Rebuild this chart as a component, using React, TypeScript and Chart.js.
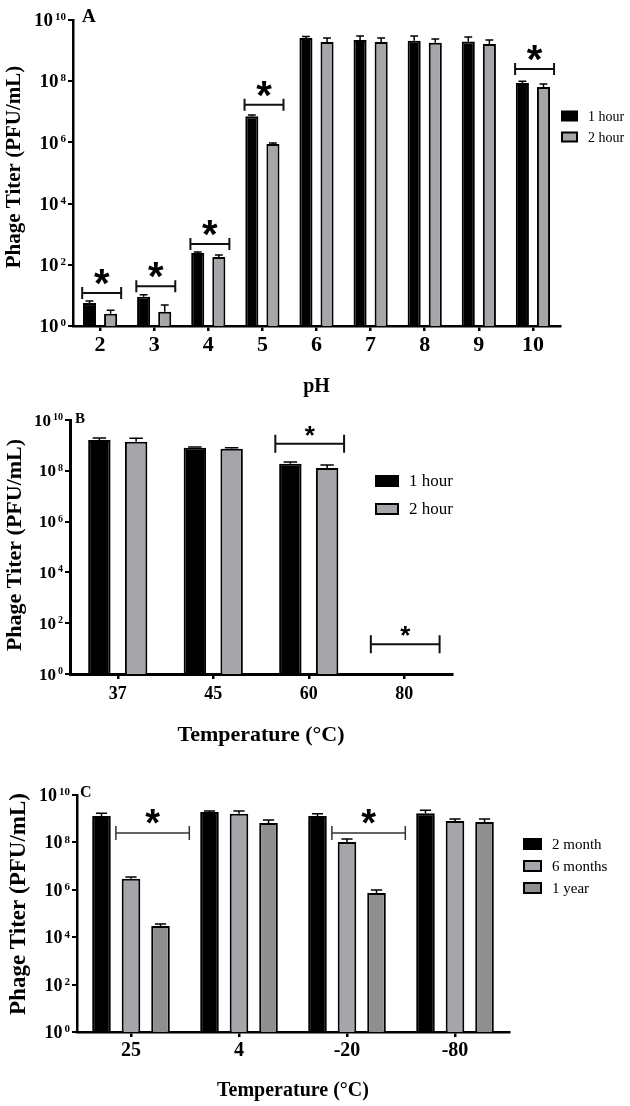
import React, { useEffect, useRef } from "react";
import { Chart, registerables } from "chart.js";

Chart.register(...registerables);

const SERIF = "'Liberation Serif', 'Times New Roman', serif";
const SANS = "'Liberation Sans', Arial, sans-serif";

// ---------- Panel A: pH stability ----------
const phLabels = ["2", "3", "4", "5", "6", "7", "8", "9", "10"];
const ph1Hour = [5.6, 9, 245, 7.2e6, 2.6e9, 2.2e9, 2.1e9, 2.0e9, 8.7e7];
const ph1HourErr = [6.6, 10.5, 263, 7.9e6, 2.9e9, 3.0e9, 3.0e9, 2.8e9, 1.0e8];
const ph2Hour = [2.5, 2.9, 180, 8.9e5, 1.9e9, 1.9e9, 1.8e9, 1.65e9, 6.5e7];
const ph2HourErr = [3.3, 4.9, 209, 9.5e5, 2.6e9, 2.6e9, 2.4e9, 2.2e9, 8.1e7];
const phSigCats = [0, 1, 2, 3, 8];
const phSigLevels = [12, 20, 480, 1.7e7, 2.5e8];

// ---------- Panel B: temperature stability ----------
const tempLabels = ["37", "45", "60", "80"];
const temp1Hour = [1.65e9, 8e8, 1.9e8, null];
const temp1HourErr = [1.96e9, 8.7e8, 2.2e8, null];
const temp2Hour = [1.4e9, 7.3e8, 1.3e8, null];
const temp2HourErr = [1.9e9, 8e8, 1.7e8, null];
const tempSigCats = [2, 3];
const tempSigLevels = [1.15e9, 15];

// ---------- Panel C: storage stability ----------
const storeLabels = ["25", "4", "-20", "-80"];
const store2Month = [1.3e9, 1.9e9, 1.3e9, 1.7e9];
const store2MonthErr = [1.7e9, 2.1e9, 1.6e9, 2.3e9];
const store6Months = [2.9e6, 1.6e9, 1.05e8, 8e8];
const store6MonthsErr = [3.5e6, 2.1e9, 1.4e8, 9.7e8];
const store1Year = [3e4, 6.6e8, 7.3e5, 7.3e8];
const store1YearErr = [3.6e4, 8.8e8, 9.8e5, 9.7e8];
const storeSigCats = [0, 2];
const storeSigLevels = [2.5e8, 2.5e8];

const yTickValues = [1, 1e2, 1e4, 1e6, 1e8, 1e10];
const yTickBase = "10";
const yTitleText = "Phage Titer (PFU/mL)";

type Series = { label: string; values: (number | null)[]; errors: (number | null)[]; color: string };

type Panel = {
  top: number;
  height: number;
  area: { left: number; top: number; right: number; bottom: number };
  labels: string[];
  series: Series[];
  sigCats: number[];
  sigLevels: number[];
  sigFrom: number;
  sigTo: number;
  sigCap: number;
  sigLw: number;
  sigColor: string;
  starSize: number;
  starDy: number;
  catPct: number;
  barPct: number;
  axisW: number;
  yTickFont: number;
  xTickFont: number;
  xTickPad: number;
  yTitleFont: number;
  yTitleX: number;
  yTitleY: number;
  xTitle: string;
  xTitleFont: number;
  xTitlePad: number;
  letter: string;
  letterX: number;
  letterY: number;
  letterFont: number;
  legX: number;
  legY: number;
  legDy: number;
  legW: number;
  legH: number;
  legFont: number;
  errLw: number;
};

const BLACK = "#000000";
const GREY = "#a6a6aa";
const DARKGREY = "#8f8f91";

const panels: Panel[] = [
  {
    top: 0,
    height: 405,
    area: { left: 73, top: 20, right: 560, bottom: 326 },
    labels: phLabels,
    series: [
      { label: "1 hour", values: ph1Hour, errors: ph1HourErr, color: BLACK },
      { label: "2 hour", values: ph2Hour, errors: ph2HourErr, color: GREY },
    ],
    sigCats: phSigCats,
    sigLevels: phSigLevels,
    sigFrom: -0.33,
    sigTo: 0.39,
    sigCap: 6,
    sigLw: 2,
    sigColor: "#111",
    starSize: 40,
    starDy: 18,
    catPct: 0.78,
    barPct: 0.62,
    axisW: 2.5,
    yTickFont: 19,
    xTickFont: 22,
    xTickPad: 1,
    yTitleFont: 21,
    yTitleX: 15,
    yTitleY: 167,
    xTitle: "pH",
    xTitleFont: 20,
    xTitlePad: 6,
    letter: "A",
    letterX: 82,
    letterY: 17,
    letterFont: 19,
    legX: 562,
    legY: 116,
    legDy: 21,
    legW: 15,
    legH: 9,
    legFont: 14,
    errLw: 1.5,
  },
  {
    top: 405,
    height: 355,
    area: { left: 70, top: 15, right: 452, bottom: 269 },
    labels: tempLabels,
    series: [
      { label: "1 hour", values: temp1Hour, errors: temp1HourErr, color: BLACK },
      { label: "2 hour", values: temp2Hour, errors: temp2HourErr, color: GREY },
    ],
    sigCats: tempSigCats,
    sigLevels: tempSigLevels,
    sigFrom: -0.35,
    sigTo: 0.37,
    sigCap: 9,
    sigLw: 2,
    sigColor: "#111",
    starSize: 26,
    starDy: 14,
    catPct: 0.77,
    barPct: 0.61,
    axisW: 3,
    yTickFont: 17,
    xTickFont: 18,
    xTickPad: 5,
    yTitleFont: 22,
    yTitleX: 15,
    yTitleY: 140,
    xTitle: "Temperature (°C)",
    xTitleFont: 22,
    xTitlePad: 11,
    letter: "B",
    letterX: 75,
    letterY: 14,
    letterFont: 15,
    legX: 376,
    legY: 76,
    legDy: 28,
    legW: 22,
    legH: 10,
    legFont: 17,
    errLw: 1.5,
  },
  {
    top: 780,
    height: 326,
    area: { left: 77, top: 15, right: 509, bottom: 252 },
    labels: storeLabels,
    series: [
      { label: "2 month", values: store2Month, errors: store2MonthErr, color: BLACK },
      { label: "6 months", values: store6Months, errors: store6MonthsErr, color: GREY },
      { label: "1 year", values: store1Year, errors: store1YearErr, color: DARKGREY },
    ],
    sigCats: storeSigCats,
    sigLevels: storeSigLevels,
    sigFrom: -0.14,
    sigTo: 0.54,
    sigCap: 7,
    sigLw: 1.5,
    sigColor: "#333",
    starSize: 38,
    starDy: 18,
    catPct: 0.82,
    barPct: 0.63,
    axisW: 2.5,
    yTickFont: 18,
    xTickFont: 20,
    xTickPad: 1.5,
    yTitleFont: 23,
    yTitleX: 19,
    yTitleY: 124,
    xTitle: "Temperature (°C)",
    xTitleFont: 20,
    xTitlePad: 3,
    letter: "C",
    letterX: 80,
    letterY: 13,
    letterFont: 16,
    legX: 524,
    legY: 64,
    legDy: 22,
    legW: 17,
    legH: 10,
    legFont: 15,
    errLw: 1.5,
  },
];

function makeExtras(p: Panel) {
  return {
    id: "extras",
    afterDatasetsDraw(chart: any) {
      const ctx = chart.ctx as CanvasRenderingContext2D;
      const ys = chart.scales.y;
      chart.data.datasets.forEach((_ds: any, di: number) => {
        const meta = chart.getDatasetMeta(di);
        const errs = p.series[di].errors;
        meta.data.forEach((bar: any, i: number) => {
          const e = errs[i];
          const v = p.series[di].values[i];
          if (e == null || v == null) return;
          const props = bar.getProps(["x", "y", "width"], true);
          const ey = ys.getPixelForValue(e);
          const hw = props.width * 0.3;
          ctx.save();
          ctx.strokeStyle = "#000";
          ctx.lineWidth = p.errLw;
          ctx.beginPath();
          ctx.moveTo(props.x, props.y);
          ctx.lineTo(props.x, ey);
          ctx.moveTo(props.x - hw, ey);
          ctx.lineTo(props.x + hw, ey);
          ctx.stroke();
          ctx.restore();
        });
      });
    },
    afterDraw(chart: any) {
      const ctx = chart.ctx as CanvasRenderingContext2D;
      const xs = chart.scales.x;
      const ys = chart.scales.y;
      const cw = xs.getPixelForValue(1) - xs.getPixelForValue(0);
      ctx.save();
      // y tick labels: 10 with a raised exponent
      const fs = p.yTickFont;
      const es = Math.round(fs * 0.6);
      const right = p.area.left - 7;
      yTickValues.forEach((v) => {
        const y = ys.getPixelForValue(v);
        const exp = String(Math.round(Math.log10(v)));
        ctx.fillStyle = "#000";
        ctx.font = `bold ${es}px ${SERIF}`;
        ctx.textAlign = "left";
        ctx.textBaseline = "alphabetic";
        const ew = ctx.measureText(exp).width;
        const baseBaseline = y + 0.33 * fs;
        const mainTop = baseBaseline - 0.66 * fs;
        ctx.fillText(exp, right - ew, mainTop + 0.66 * es - 1);
        ctx.font = `bold ${fs}px ${SERIF}`;
        ctx.textAlign = "right";
        ctx.fillText(yTickBase, right - ew - 2, baseBaseline);
      });
      // y axis title
      ctx.save();
      ctx.translate(p.yTitleX, p.yTitleY);
      ctx.rotate(-Math.PI / 2);
      ctx.fillStyle = "#000";
      ctx.font = `bold ${p.yTitleFont}px ${SERIF}`;
      ctx.textAlign = "center";
      ctx.textBaseline = "middle";
      ctx.fillText(yTitleText, 0, 0);
      ctx.restore();
      // significance brackets
      p.sigCats.forEach((c, k) => {
        const cx = xs.getPixelForValue(c);
        const x0 = cx + p.sigFrom * cw;
        const x1 = cx + p.sigTo * cw;
        const y = ys.getPixelForValue(p.sigLevels[k]);
        ctx.strokeStyle = p.sigColor;
        ctx.lineWidth = p.sigLw;
        ctx.beginPath();
        ctx.moveTo(x0, y);
        ctx.lineTo(x1, y);
        ctx.moveTo(x0, y - p.sigCap);
        ctx.lineTo(x0, y + p.sigCap);
        ctx.moveTo(x1, y - p.sigCap);
        ctx.lineTo(x1, y + p.sigCap);
        ctx.stroke();
        ctx.fillStyle = "#000";
        ctx.font = `bold ${p.starSize}px ${SANS}`;
        ctx.textAlign = "center";
        ctx.textBaseline = "alphabetic";
        ctx.fillText("*", (x0 + x1) / 2, y - p.starDy + 0.55 * p.starSize);
      });
      // legend
      p.series.forEach((s, i) => {
        const cy = p.legY + i * p.legDy;
        ctx.fillStyle = s.color;
        ctx.fillRect(p.legX, cy - p.legH / 2, p.legW, p.legH);
        ctx.strokeStyle = "#000";
        ctx.lineWidth = 2;
        ctx.strokeRect(p.legX, cy - p.legH / 2, p.legW, p.legH);
        ctx.fillStyle = "#000";
        ctx.font = `${p.legFont}px ${SERIF}`;
        ctx.textAlign = "left";
        ctx.textBaseline = "middle";
        ctx.fillText(s.label, p.legX + p.legW + 11, cy + 1);
      });
      // panel letter
      ctx.fillStyle = "#000";
      ctx.font = `bold ${p.letterFont}px ${SERIF}`;
      ctx.textAlign = "left";
      ctx.textBaseline = "middle";
      ctx.fillText(p.letter, p.letterX, p.letterY);
      ctx.restore();
    },
  };
}

function ChartPanel({ p }: { p: Panel }) {
  const ref = useRef<HTMLCanvasElement | null>(null);
  useEffect(() => {
    if (!ref.current) return;
    const chart = new Chart(ref.current, {
      type: "bar",
      data: {
        labels: p.labels,
        datasets: p.series.map((s) => ({
          label: s.label,
          data: s.values as any,
          backgroundColor: s.color,
          borderColor: "#000",
          borderWidth: 2,
          categoryPercentage: p.catPct,
          barPercentage: p.barPct,
        })),
      },
      options: {
        responsive: false,
        maintainAspectRatio: false,
        animation: false,
        devicePixelRatio: 1,
        layout: {
          padding: { top: p.area.top, right: 630 - p.area.right, bottom: 0, left: 0 },
        },
        plugins: { legend: { display: false }, tooltip: { enabled: false } },
        scales: {
          x: {
            type: "category",
            offset: true,
            grid: {
              offset: false,
              display: true,
              drawOnChartArea: false,
              drawTicks: true,
              tickLength: 5,
              tickWidth: 2.5,
              color: "#000",
              lineWidth: 2.5,
            },
            border: { display: true, color: "#000", width: p.axisW },
            ticks: {
              color: "#000",
              padding: p.xTickPad,
              font: { family: SERIF, size: p.xTickFont, weight: "bold" },
              maxRotation: 0,
              autoSkip: false,
            },
            title: {
              display: true,
              text: p.xTitle,
              color: "#000",
              font: { family: SERIF, size: p.xTitleFont, weight: "bold" },
              padding: { top: 0, bottom: p.xTitlePad },
            },
            afterFit: (s: any) => {
              s.height = p.height - p.area.bottom;
            },
          },
          y: {
            type: "logarithmic",
            min: 1,
            max: 1e10,
            afterBuildTicks: (s: any) => {
              s.ticks = yTickValues.map((v) => ({ value: v }));
            },
            grid: {
              display: true,
              drawOnChartArea: false,
              drawTicks: true,
              tickLength: 5,
              tickWidth: 2,
              color: "#000",
              lineWidth: 2,
            },
            border: { display: true, color: "#000", width: p.axisW },
            ticks: {
              display: false,
              autoSkip: false,
            },
            title: { display: false },
            afterFit: (s: any) => {
              s.width = p.area.left;
            },
          },
        },
      } as any,
      plugins: [makeExtras(p)],
    });
    return () => chart.destroy();
  }, [p]);
  return (
    <div style={{ position: "absolute", left: 0, top: p.top, width: 630, height: p.height }}>
      <canvas ref={ref} width={630} height={p.height} style={{ width: 630, height: p.height, display: "block" }} />
    </div>
  );
}

export default function App() {
  return (
    <div
      style={{
        position: "absolute",
        left: 0,
        top: 0,
        width: 630,
        height: 1106,
        background: "#ffffff",
        overflow: "hidden",
      }}
    >
      {panels.map((p) => (
        <ChartPanel key={p.letter} p={p} />
      ))}
    </div>
  );
}
